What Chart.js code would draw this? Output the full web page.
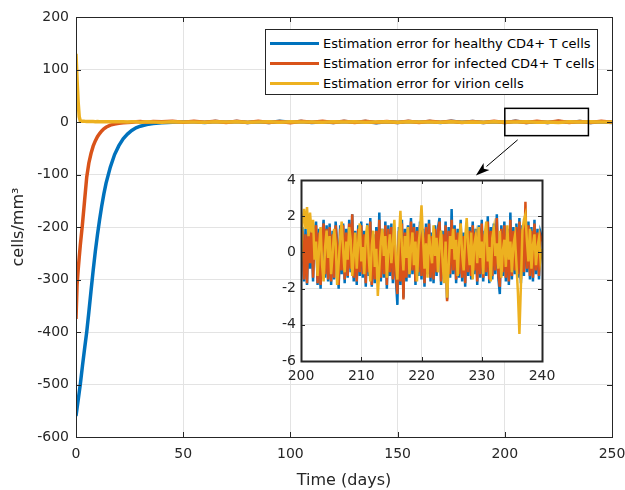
<!doctype html>
<html lang="en">
<head>
<meta charset="utf-8">
<title>Estimation error</title>
<script src="https://cdn.jsdelivr.net/npm/chart.js"></script>
<style>
  body { margin: 0; background: #fff; font-family: "DejaVu Sans", sans-serif; }
  #wrap { position: relative; width: 625px; height: 490px; }
  #mainChart { position: absolute; left: 0; top: 0; }
  #insetChart { position: absolute; left: 262px; top: 168px; }
  #legend { position: absolute; left: 265px; top: 29px; width: 333px; height: 66px;
            border: 1px solid #262626; background: #fff; box-sizing: border-box; padding-top: 3px; }
  .row { height: 20.3px; display: flex; align-items: center; font-size: 13px; color: #000; white-space: nowrap; }
  .swatch { width: 49px; height: 3px; margin: 0 4px 0 4px; }
</style>
</head>
<body>
<div id="wrap">
  <canvas id="mainChart" width="625" height="490"></canvas>
  <canvas id="insetChart" width="305" height="222"></canvas>
  <div id="legend"></div>
</div>
<script>
// series names / colours
const seriesNames = ['Estimation error for healthy CD4+ T cells',
                     'Estimation error for infected CD4+ T cells',
                     'Estimation error for virion cells'];
const seriesColors = ['#0072BD', '#D95319', '#EDB120'];

// transient part of the main plot (days)
const mainTime = [0, 0.5, 1, 1.5, 2, 3, 4, 5, 6, 7, 8, 9, 10, 11, 12, 13, 14, 16, 18, 20, 22, 24, 26, 28, 30, 33, 36, 40, 45, 50];
const blueMain = [-560, -545, -530, -515, -500, -465, -432, -400, -362, -322, -283, -247, -215, -186, -160, -137, -117, -86, -62, -45, -32, -23, -16, -11, -8, -5, -3, -1.5, -0.5, 0.3];
const redMain = [-375, -310, -282, -258, -235, -195, -150, -105, -78, -60, -46, -36, -28, -22, -17, -13, -10, -6, -4, -2.5, -1.5, -1, -0.5, 0.3, 0.8, -0.4, 1.0, 0.5, 1.2, -0.6];
const yellowMain = [130, 80, 38, 10, 2, 1.5, 1.2, 1, 1, 0.8, 0.9, 0.7, 0.8, 0.6, 0.7, 0.5, 0.6, 0.4, 0.5, 0.3, 0.6, -0.2, 0.4, 0.3, -0.4, 0.5, 0.2, -0.3, 0.6, 0.1];

// steady-state tail of the main plot, every 5 days from 55 to 250
const tailTime = [55, 60, 65, 70, 75, 80, 85, 90, 95, 100, 105, 110, 115, 120, 125, 130, 135, 140, 145, 150,
                  155, 160, 165, 170, 175, 180, 185, 190, 195, 200, 205, 210, 215, 220, 225, 230, 235, 240, 245, 250];
const blueTail = [0.6, -0.9, 1.1, -0.5, 0.8, -1.0, 0.7, -0.8, 1.2, -0.6, 0.9, -1.1, 0.5, -0.8, 1.0, -0.7, 1.0, -1.2, 0.5, -0.9,
                  1.1, -0.5, 0.8, -1.0, 1.3, -0.4, 0.8, -1.0, 0.6, -0.8, 1.2, -0.9, 0.7, -1.1, 0.9, -0.6, 1.0, -0.8, 0.5, -1.0];
const redTail = [1.2, -0.6, 1.5, -0.9, 1.3, -1.0, 1.4, -0.8, 1.0, -1.2, 1.5, -0.6, 1.2, -1.0, 1.4, -0.9, 1.6, -0.7, 1.1, -1.1,
                 1.4, -0.9, 1.3, -0.6, 1.6, -1.0, 1.1, -0.8, 1.4, -1.0, 1.5, -0.7, 1.2, -1.1, 1.7, -0.9, 1.1, -0.9, 1.3, -0.5];
const yellowTail = [0.2, -0.4, 0.5, -0.2, 0.3, -0.5, 0.2, 0.4, -0.3, 0.6, -0.2, 0.1, -0.5, 0.4, -0.2, 0.5, -0.4, 0.1, 0.3, -0.5,
                    0.4, -0.1, 0.2, -0.3, 0.6, -0.3, 0.1, -0.6, 0.4, 0.1, -0.2, 0.5, -0.4, 0.2, -0.9, 0.4, -0.2, 0.3, -0.1, 0.1];

// inset: days 200..240 sampled every 0.25 day
const insetStart = 200;
const insetStep = 0.25;
const blueInset = [
  -0.1, 1.4, -1.6, 1.3, -1.8, 1.6, -0.9, 1.5, -1.6, 1.1, 1.7, -1.8, 1.3, -2.0, 0.6, 1.8, -1.4, 1.5, -1.6, 1.6,
  -1.8, 1.2, -1.5, 1.7, 0.5, -2.0, 1.5, -1.2, 1.6, -1.7, 1.3, -1.4, 1.8, -1.1, 2.1, -1.6, 1.2, -1.8, 1.5, -1.3,
  1.7, -1.4, 1.2, -1.9, 1.6, -1.3, 1.9, -1.9, 1.0, -1.7, 1.4, -1.2, 2.2, -1.6, 1.3, -1.4, 1.7, -2.0, 1.5, -1.3,
  1.6, -1.7, 1.2, -1.5, -2.9, 1.4, -1.8, 1.8, -2.5, 1.3, -1.6, 1.5, -1.4, 1.9, -1.2, 1.6, -1.8, 1.4, -1.3, 1.7,
  -1.5, 1.3, -1.9, 1.6, -1.2, 1.8, -1.6, 1.1, -1.7, 1.5, -1.3, 1.4, 1.9, -1.8, 1.2, -1.5, 1.7, -2.6, 1.4, -1.4,
  2.4, -1.2, 1.5, -1.7, 1.3, -1.4, 1.8, -1.6, 1.1, -1.9, 1.6, -1.3, 1.4, -1.5, 1.7, -1.2, 1.3, -1.8, 1.5, -1.4,
  1.8, -1.6, 1.2, -1.3, 2.0, -1.7, 1.4, -1.5, 1.6, -1.2, 2.1, -1.4, -2.3, 1.5, -1.3, 1.7, -1.6, 1.3, -1.8, 2.2,
  -1.5, 1.4, -1.2, 1.6, -1.4, 1.9, -1.7, 1.5, -1.3, 2.3, -1.1, 1.7, -1.5, 1.4, -1.6, 1.8, -1.2, 1.3, -1.5, 1.1, 0.8];
const redInset = [
  -0.3, 1.2, -1.5, 1.0, -1.7, 1.4, -0.6, 1.3, -1.4, 0.9, 1.5, -1.7, 1.1, -1.8, 0.4, 1.6, -1.2, 1.3, -1.5, 1.4,
  -1.6, 1.0, -1.4, 1.5, 0.3, -1.8, 1.3, -1.0, 1.5, -1.5, 1.1, -1.3, 1.6, -0.9, 2.1, -1.4, 1.0, -1.6, 1.3, -1.1,
  1.5, -1.2, 1.0, -1.7, 1.4, -1.1, 1.7, -1.8, 0.8, -1.5, 1.2, -1.0, 1.8, -1.4, 1.1, -1.2, 1.5, -1.8, 1.3, -1.1,
  1.4, -1.5, 1.0, -1.3, -2.3, 1.2, -1.6, 1.6, -2.6, 1.1, -1.4, 1.3, -1.2, 1.7, -1.0, 1.4, -1.6, 1.2, -1.1, 1.5,
  -1.3, 1.1, -1.7, 1.4, -1.0, 1.6, -1.4, 0.9, -1.5, 1.3, -1.1, 1.2, 1.7, -1.6, 1.0, -1.3, 1.5, -2.7, 1.2, -1.2,
  1.8, -1.0, 1.3, -1.5, 1.1, -1.2, 1.6, -1.4, 0.9, -1.7, 1.4, -1.1, 1.2, -1.3, 1.5, -1.0, 1.1, -1.6, 1.3, -1.2,
  1.6, -1.4, 1.0, -1.1, 1.7, -1.5, 1.2, -1.3, 1.4, -1.0, 1.9, -1.2, -1.9, 1.3, -1.1, 1.5, -1.4, 1.1, -1.6, 1.8,
  -1.3, 1.2, -1.0, 1.4, -1.2, 1.7, -1.5, 1.3, -1.1, 2.8, -0.9, 1.5, -1.3, 1.2, -1.4, 1.6, -1.0, 1.1, -1.3, 0.9, 0.6];
const yellowInset = [
  -0.5, 1.6, 2.4, 1.3, 2.5, 0.9, 2.2, 1.1, 1.8, -0.4, 0.6, -1.3, 0.2, 1.4, -0.7, -1.6, 0.3, 1.2, -0.3, 0.9,
  -1.2, -0.1, 1.3, 0.5, -1.8, -0.6, 0.8, 1.7, 0.1, -1.1, 0.6, -0.4, 1.4, 0.7, -1.3, -0.2, 1.1, -0.9, 0.5, 1.6,
  -0.5, 0.3, -1.2, 0.8, 1.5, -0.3, -1.6, 0.4, 1.2, -0.8, 0.2, -2.4, -0.9, 0.6, 1.3, -0.2, 0.9, -1.4, 0.1, 1.0,
  -0.6, 0.5, 1.8, -0.4, -1.5, 0.7, 2.3, 0.3, -1.0, 0.9, -0.3, 1.4, -1.2, 0.2, 1.1, -0.7, 0.6, -1.6, 0.4, 1.2,
  2.6, 0.8, -0.9, 0.5, -1.4, 1.0, 0.1, -0.6, 1.5, -0.2, 0.8, -1.1, 0.3, 1.2, -0.5, -1.7, 0.6, -2.5, -0.8, 0.9,
  0.2, 1.3, -0.4, 0.7, -1.3, 0.5, 1.6, -0.1, -1.0, 0.8, 1.9, 0.3, -0.7, 1.1, -1.5, 0.4, 0.9, -0.6, 1.4, -0.3,
  0.6, -1.2, 1.0, 1.7, -0.5, 0.3, -1.6, 0.8, 1.3, -0.2, 0.5, -0.9, 1.2, -1.4, 0.1, 0.7, -0.8, 1.5, -0.4, 0.6,
  -1.1, 0.4, 0.9, -0.6, -2.2, -4.5, -1.8, 1.2, 1.8, 2.1, 0.6, -0.5, 1.3, -0.9, 0.4, 1.0, -0.7, 0.3, 0.8, -0.4, 0.2];

// zoom rectangle and arrow, in main-plot data units
const zoomBox = { x0: 200, x1: 239, y0: -26, y1: 26 };
const arrowFrom = [206, -34];
const arrowTo = [186.5, -102];

const FONT = '"DejaVu Sans", sans-serif';
const INK = '#262626';
const GRID = '#e3e3e3';

function pts(xs, ys) { return ys.map((y, i) => ({ x: xs[i], y: y })); }
function insetPts(ys) { return ys.map((y, i) => ({ x: insetStart + i * insetStep, y: y })); }

// box around the axes with inward ticks on all four sides (matlab look)
const framePlugin = {
  id: 'frame',
  beforeDraw(chart, args, opts) {
    if (!opts.fill) return;
    const a = chart.chartArea, ctx = chart.ctx;
    ctx.save();
    ctx.fillStyle = '#fff';
    ctx.fillRect(a.left, a.top, a.right - a.left, a.bottom - a.top);
    ctx.restore();
  },
  afterDraw(chart, args, opts) {
    const { ctx, chartArea: a, scales } = chart;
    const L = opts.len;
    ctx.save();
    ctx.strokeStyle = INK;
    ctx.lineWidth = 1;
    ctx.beginPath();
    scales.x.ticks.forEach(t => {
      const px = Math.round(scales.x.getPixelForValue(t.value)) + 0.5;
      ctx.moveTo(px, a.bottom); ctx.lineTo(px, a.bottom - L);
      ctx.moveTo(px, a.top); ctx.lineTo(px, a.top + L);
    });
    scales.y.ticks.forEach(t => {
      const py = Math.round(scales.y.getPixelForValue(t.value)) + 0.5;
      ctx.moveTo(a.left, py); ctx.lineTo(a.left + L, py);
      ctx.moveTo(a.right, py); ctx.lineTo(a.right - L, py);
    });
    ctx.stroke();
    ctx.lineWidth = opts.width;
    ctx.strokeRect(Math.round(a.left) + 0.5, Math.round(a.top) + 0.5,
                   Math.round(a.right - a.left), Math.round(a.bottom - a.top));
    ctx.restore();
  }
};

// zoom rectangle + arrow pointing at the inset
const zoomPlugin = {
  id: 'zoomMark',
  afterDraw(chart) {
    const { ctx, scales: { x, y } } = chart;
    ctx.save();
    ctx.strokeStyle = '#000';
    ctx.lineWidth = 1.5;
    const rx = x.getPixelForValue(zoomBox.x0), rx1 = x.getPixelForValue(zoomBox.x1);
    const ry = y.getPixelForValue(zoomBox.y1), ry1 = y.getPixelForValue(zoomBox.y0);
    ctx.strokeRect(rx, ry, rx1 - rx, ry1 - ry);

    const x0 = x.getPixelForValue(arrowFrom[0]), y0 = y.getPixelForValue(arrowFrom[1]);
    const x1 = x.getPixelForValue(arrowTo[0]), y1 = y.getPixelForValue(arrowTo[1]);
    const ang = Math.atan2(y1 - y0, x1 - x0);
    const hl = 14, hw = 4.5;
    const bx = x1 - hl * Math.cos(ang), by = y1 - hl * Math.sin(ang);
    ctx.lineWidth = 1;
    ctx.beginPath();
    ctx.moveTo(x0, y0); ctx.lineTo(bx, by);
    ctx.stroke();
    const nx = -Math.sin(ang), ny = Math.cos(ang);
    const bx2 = x1 - hl * 0.75 * Math.cos(ang), by2 = y1 - hl * 0.75 * Math.sin(ang);
    ctx.fillStyle = '#000';
    ctx.beginPath();
    ctx.moveTo(x1, y1);
    ctx.lineTo(bx + nx * hw, by + ny * hw);
    ctx.lineTo(bx2, by2);
    ctx.lineTo(bx - nx * hw, by - ny * hw);
    ctx.closePath();
    ctx.fill();
    ctx.restore();
  }
};

function lineSet(label, data, color, width, order) {
  return { label: label, data: data, borderColor: color, backgroundColor: color,
           borderWidth: width, pointRadius: 0, tension: 0, order: order };
}

// MAIN chart
new Chart(document.getElementById('mainChart'), {
  type: 'line',
  data: {
    datasets: [
      lineSet(seriesNames[0], pts(mainTime, blueMain).concat(pts(tailTime, blueTail)), seriesColors[0], 3.5, 3),
      lineSet(seriesNames[1], pts(mainTime, redMain).concat(pts(tailTime, redTail)), seriesColors[1], 3.5, 2),
      lineSet(seriesNames[2], pts(mainTime, yellowMain).concat(pts(tailTime, yellowTail)), seriesColors[2], 3.5, 1)
    ]
  },
  options: {
    responsive: false,
    animation: false,
    layout: { padding: { top: 17, right: 13, left: 0, bottom: 0 } },
    plugins: { legend: { display: false }, tooltip: { enabled: false },
               frame: { len: 5, width: 1, fill: false } },
    scales: {
      x: {
        type: 'linear', min: 0, max: 250,
        ticks: { stepSize: 50, color: INK, font: { family: FONT, size: 14 }, padding: 9, maxRotation: 0 },
        grid: { color: GRID, drawTicks: false },
        border: { display: false },
        title: { display: true, text: 'Time (days)', color: INK, font: { family: FONT, size: 16 }, padding: { top: 0, bottom: 0 } },
        afterFit: s => { s.height = 53; s.paddingLeft = 0; s.paddingRight = 0; }
      },
      y: {
        type: 'linear', min: -600, max: 200,
        ticks: { stepSize: 100, color: INK, font: { family: FONT, size: 14 }, padding: 7 },
        grid: { color: GRID, drawTicks: false },
        border: { display: false },
        title: { display: true, text: 'cells/mm³', color: INK, font: { family: FONT, size: 16 }, padding: { top: 9, bottom: 0 } },
        afterFit: s => { s.width = 76; s.paddingTop = 0; s.paddingBottom = 0; }
      }
    }
  },
  plugins: [framePlugin, zoomPlugin]
});

// INSET chart (days 200-240)
new Chart(document.getElementById('insetChart'), {
  type: 'line',
  data: {
    datasets: [
      lineSet(seriesNames[0], insetPts(blueInset), seriesColors[0], 2.5, 3),
      lineSet(seriesNames[1], insetPts(redInset), seriesColors[1], 2.5, 2),
      lineSet(seriesNames[2], insetPts(yellowInset), seriesColors[2], 2.5, 1)
    ]
  },
  options: {
    responsive: false,
    animation: false,
    layout: { padding: { top: 12, right: 25, left: 0, bottom: 0 } },
    plugins: { legend: { display: false }, tooltip: { enabled: false },
               frame: { len: 4, width: 2, fill: true } },
    scales: {
      x: {
        type: 'linear', min: 200, max: 240,
        ticks: { stepSize: 10, color: INK, font: { family: FONT, size: 14 }, padding: 7, maxRotation: 0 },
        grid: { color: GRID, drawTicks: false },
        border: { display: false },
        afterFit: s => { s.height = 29; s.paddingLeft = 0; s.paddingRight = 0; }
      },
      y: {
        type: 'linear', min: -6, max: 4,
        ticks: { stepSize: 2, color: INK, font: { family: FONT, size: 14 }, padding: 5 },
        grid: { color: GRID, drawTicks: false },
        border: { display: false },
        afterFit: s => { s.width = 39; s.paddingTop = 0; s.paddingBottom = 0; }
      }
    }
  },
  plugins: [framePlugin]
});

// legend box
const legend = document.getElementById('legend');
seriesNames.forEach((name, i) => {
  const row = document.createElement('div');
  row.className = 'row';
  const sw = document.createElement('span');
  sw.className = 'swatch';
  sw.style.background = seriesColors[i];
  const tx = document.createElement('span');
  tx.textContent = name;
  row.appendChild(sw);
  row.appendChild(tx);
  legend.appendChild(row);
});
</script>
</body>
</html>
